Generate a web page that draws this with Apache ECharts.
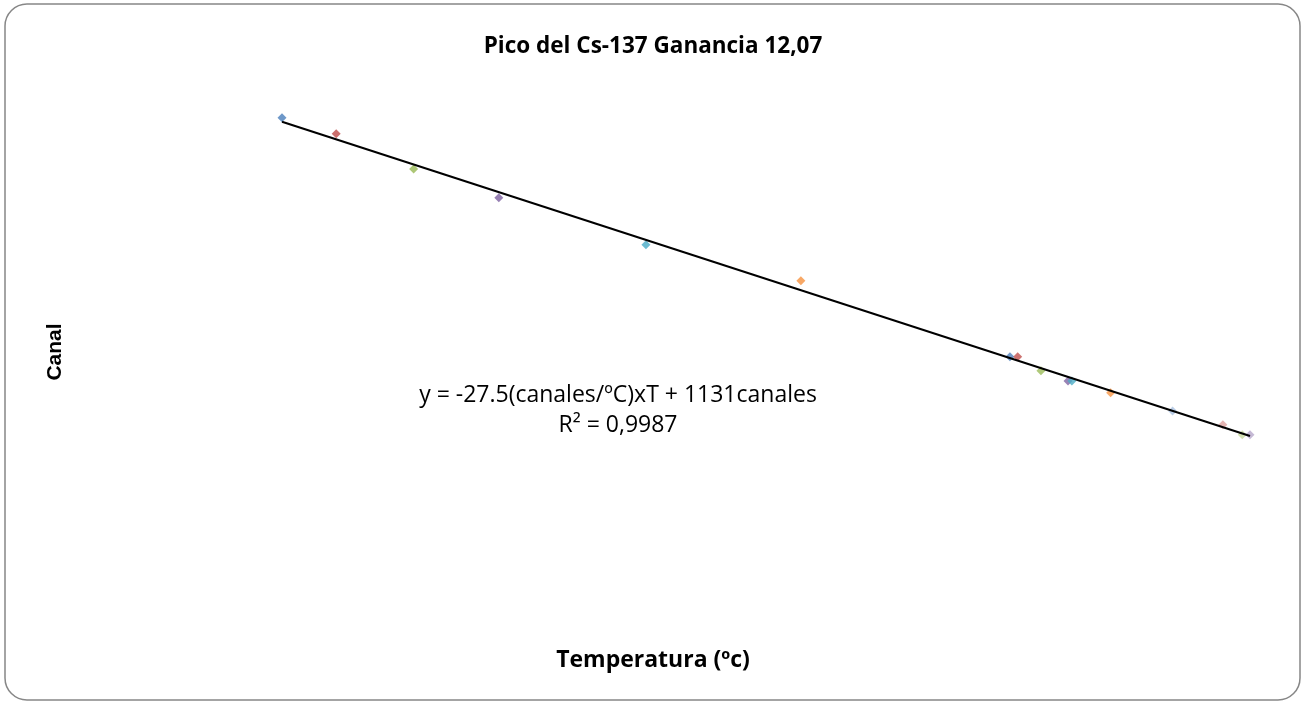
<!DOCTYPE html>
<html>
<head>
<meta charset="utf-8">
<script src="https://cdn.jsdelivr.net/npm/echarts@6/dist/echarts.min.js"></script>
<style>html,body{margin:0;padding:0;background:#fff}#c{width:1306px;height:702px}</style>
</head>
<body>
<div id="c"></div>
<script>
// Data
const temperaturas = [10.0, 11.4, 13.4, 15.6, 19.4, 23.4, 28.8, 29.0, 29.6, 30.3, 30.4, 31.4, 33.0, 34.3, 34.8, 35.0];
const canales = [865, 830, 753, 690, 587, 508, 342, 342, 311, 289, 289, 263, 223, 193, 171, 171];
const pointColors = ['#4A7EBB', '#BE4B48', '#98B954', '#7D60A0', '#46AAC5', '#F69240',
                     '#4F81BD', '#C0504D', '#9BBB59', '#8064A2', '#4BACC6', '#F79646',
                     '#A9C0E0', '#DFA2A0', '#C8DA9F', '#B6A7CB'];
const slope = -27.5;
const intercept = 1131;
const titleText = 'Pico del Cs-137 Ganancia 12,07';
const xName = 'Temperatura (ºc)';
const yName = 'Canal';
const eqText = 'y = -27.5(canales/ºC)xT + 1131canales\nR² = 0,9987';

const tMin = Math.min(...temperaturas), tMax = Math.max(...temperaturas);
const trend = [[tMin, slope * tMin + intercept], [tMax, slope * tMax + intercept]];

const chart = echarts.init(document.getElementById('c'));
chart.setOption({
  animation: false,
  backgroundColor: '#fff',
  title: {
    text: titleText, left: 'center', top: 30,
    textStyle: { fontFamily: 'Open Sans', fontWeight: 'bold', fontSize: 22.5, color: '#000' }
  },
  grid: { left: 282, width: 968, top: 56, height: 457 },
  xAxis: {
    type: 'value', min: 10, max: 35,
    axisLine: { show: false }, axisTick: { show: false }, axisLabel: { show: false }, splitLine: { show: false }
  },
  yAxis: {
    type: 'value', min: 0, max: 1000,
    axisLine: { show: false }, axisTick: { show: false }, axisLabel: { show: false }, splitLine: { show: false }
  },
  graphic: [
    { type: 'rect', shape: { x: 5, y: 4, width: 1295, height: 696, r: 22 }, style: { fill: null, stroke: '#878787', lineWidth: 1.5 }, z: -1 },
    { type: 'text', x: 653, y: 660, style: { text: xName, fontFamily: 'Open Sans', fontWeight: 'bold', fontSize: 23, fill: '#000', textAlign: 'center', textVerticalAlign: 'middle' } },
    { type: 'text', x: 55, y: 352, rotation: Math.PI / 2, style: { text: yName, fontFamily: 'Liberation Sans', fontWeight: 'bold', fontSize: 21, fill: '#000', textAlign: 'center', textVerticalAlign: 'middle' } },
    { type: 'text', x: 618, y: 410, style: { text: eqText, fontFamily: 'Open Sans', fontSize: 23, lineHeight: 30, fill: '#000', textAlign: 'center', textVerticalAlign: 'middle' } }
  ],
  series: [
    {
      type: 'line', data: trend, symbol: 'none',
      lineStyle: { color: '#000', width: 2 }, z: 3, silent: true
    },
    {
      type: 'scatter', symbol: 'diamond', symbolSize: 9, z: 2,
      data: temperaturas.map((t, i) => ({ value: [t, canales[i]], itemStyle: { color: pointColors[i] } }))
    }
  ]
});
</script>
</body>
</html>
